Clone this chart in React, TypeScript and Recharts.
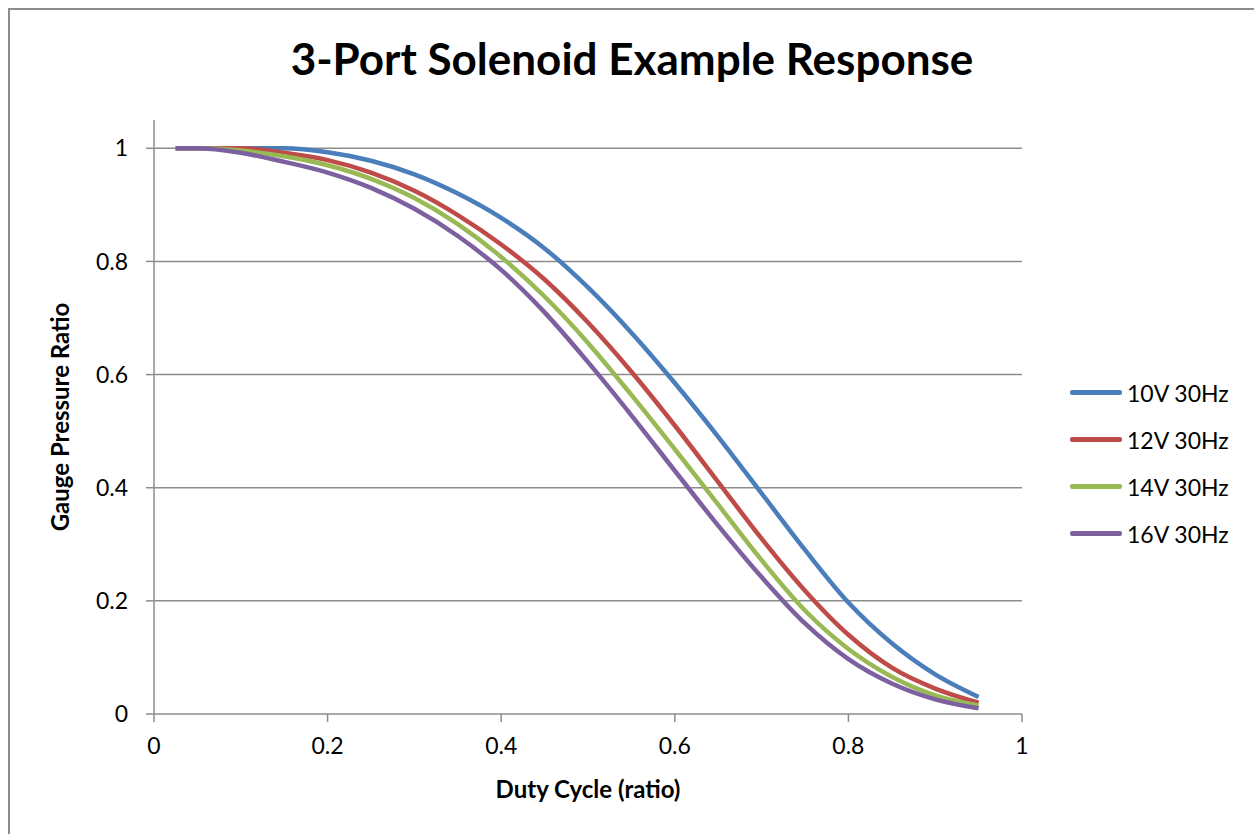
import { LineChart, Line, XAxis, YAxis, CartesianGrid } from 'recharts';

const dutyCycle = [0.025, 0.05, 0.1, 0.15, 0.2, 0.25, 0.3, 0.35, 0.4, 0.45, 0.5, 0.55, 0.6, 0.65, 0.7, 0.75, 0.8, 0.85, 0.9, 0.95];

const v10 = [1, 1, 1, 1, 0.993, 0.978, 0.954, 0.92, 0.877, 0.823, 0.754, 0.674, 0.585, 0.49, 0.39, 0.29, 0.197, 0.125, 0.07, 0.03];
const v12 = [1, 1, 1, 0.992, 0.979, 0.957, 0.925, 0.882, 0.83, 0.768, 0.692, 0.605, 0.51, 0.41, 0.31, 0.218, 0.14, 0.082, 0.045, 0.02];
const v14 = [1, 1, 0.996, 0.986, 0.97, 0.946, 0.912, 0.866, 0.808, 0.738, 0.656, 0.564, 0.468, 0.37, 0.272, 0.183, 0.115, 0.066, 0.033, 0.015];
const v16 = [1, 1, 0.992, 0.976, 0.957, 0.93, 0.893, 0.845, 0.785, 0.71, 0.622, 0.528, 0.43, 0.333, 0.242, 0.16, 0.097, 0.054, 0.026, 0.01];

const xTicks = [0, 0.2, 0.4, 0.6, 0.8, 1];
const yTicks = [0, 0.2, 0.4, 0.6, 0.8, 1];
const gridValues = [0.2, 0.4, 0.6, 0.8, 1];

const series = [
  { key: 'v10', name: '10V 30Hz', color: '#4a7ebb' },
  { key: 'v12', name: '12V 30Hz', color: '#be4b48' },
  { key: 'v14', name: '14V 30Hz', color: '#98b954' },
  { key: 'v16', name: '16V 30Hz', color: '#7d60a0' },
];

const data = dutyCycle.map((x, i) => ({ x, v10: v10[i], v12: v12[i], v14: v14[i], v16: v16[i] }));

const font = 'Lato, "Open Sans", sans-serif';
const tickStyle = { fill: '#000', fontSize: 23, fontFamily: font };
const labelStyle = { fill: '#000', fontSize: 24, fontWeight: 700, fontFamily: font };

export default function App() {
  return (
    <div style={{ position: 'absolute', left: 0, top: 0, width: 1254, height: 834, overflow: 'hidden', background: '#fff' }}>
      <div
        style={{
          position: 'absolute',
          left: 8,
          top: 8,
          width: 1280,
          height: 860,
          border: '2px solid #8c8c8c',
          boxSizing: 'border-box',
        }}
      />
      <div
        style={{
          position: 'absolute',
          left: 0,
          top: 32,
          width: 1264,
          textAlign: 'center',
          fontFamily: font,
          fontWeight: 700,
          fontSize: 44,
          color: '#000',
        }}
      >
        3-Port Solenoid Example Response
      </div>
      <div style={{ position: 'absolute', left: 0, top: 0 }}>
        <LineChart width={1254} height={834} data={data} margin={{ top: 120, right: 232, bottom: 90, left: 94 }}>
          <CartesianGrid vertical={false} horizontalValues={gridValues} stroke="#8c8c8c" strokeWidth={1.5} />
          <XAxis
            type="number"
            dataKey="x"
            domain={[0, 1]}
            ticks={xTicks}
            height={30}
            stroke="#8c8c8c"
            strokeWidth={1.5}
            tickSize={8}
            tickMargin={16}
            tick={tickStyle}
            label={{ value: 'Duty Cycle (ratio)', position: 'insideBottom', offset: -54, style: labelStyle }}
          />
          <YAxis
            type="number"
            domain={[0, 1.05]}
            ticks={yTicks}
            width={60}
            stroke="#8c8c8c"
            strokeWidth={1.5}
            tickSize={8}
            tickMargin={18}
            tick={tickStyle}
            label={{ value: 'Gauge Pressure Ratio', angle: -90, position: 'insideLeft', offset: -34, style: { ...labelStyle, textAnchor: 'middle' } }}
          />
          {series.map((s) => (
            <Line
              key={s.key}
              type="monotone"
              dataKey={s.key}
              name={s.name}
              stroke={s.color}
              strokeWidth={4.5}
              dot={false}
              isAnimationActive={false}
            />
          ))}
        </LineChart>
      </div>
      <div style={{ position: 'absolute', left: 1070, top: 369, fontFamily: font, fontSize: 23, color: '#000' }}>
        {series.map((s) => (
          <div key={s.key} style={{ display: 'flex', alignItems: 'center', height: 47 }}>
            <div style={{ width: 52, height: 4.5, background: s.color, borderRadius: 2, marginRight: 5 }} />
            <span>{s.name}</span>
          </div>
        ))}
      </div>
    </div>
  );
}
